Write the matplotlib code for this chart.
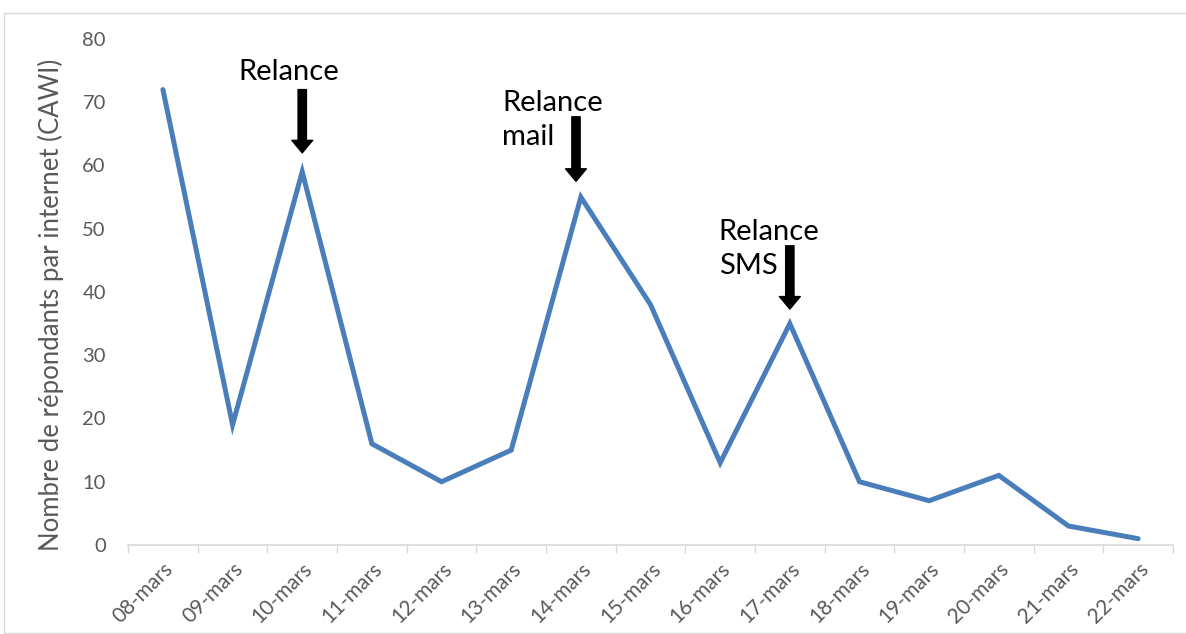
import matplotlib
matplotlib.use("Agg")
import matplotlib.pyplot as plt
from matplotlib.patches import Rectangle

# Data
dates = ['08-mars', '09-mars', '10-mars', '11-mars', '12-mars', '13-mars', '14-mars',
         '15-mars', '16-mars', '17-mars', '18-mars', '19-mars', '20-mars', '21-mars', '22-mars']
respondents = [72, 19, 59, 16, 10, 15, 55, 38, 13, 35, 10, 7, 11, 3, 1]

# annotations: (label, x index of arrow, arrow top value, arrow tip value, text x, text y)
notes = [
    ('Relance', 2, 72, 62, 1.08, 74.8),
    ('Relance\nmail', 5.93, 67.7, 57.5, 4.87, 67.2),
    ('Relance\nSMS', 9, 47.3, 37.3, 7.98, 46.8),
]

plt.rcParams['font.family'] = ['Lato', 'DejaVu Sans']
grey = '#595959'

fig = plt.figure(figsize=(11.86, 6.34), dpi=100)
ax = fig.add_axes([0.108, 0.1404, 0.881, 0.7981])

# light border round the chart area
fig.patches.append(Rectangle((4 / 1186, 0.002), 1.2, 1 - 13 / 634 - 0.002,
                             transform=fig.transFigure, fill=False,
                             edgecolor='#d9d9d9', linewidth=1))

x = range(len(dates))
ax.plot(x, respondents, color='#4a7ebb', linewidth=3.6,
        solid_joinstyle='miter', solid_capstyle='round')

ax.set_xlim(-0.5, len(dates) - 0.5)
ax.set_ylim(0, 80)
ax.set_yticks(range(0, 81, 10))
ax.set_xticks(list(x))
ax.set_xticklabels(dates, rotation=45, ha='right', va='top', rotation_mode='anchor')
ax.set_xticks([i - 0.5 for i in range(len(dates) + 1)], minor=True)

ax.tick_params(axis='x', which='major', length=0, pad=10, labelsize=15, labelcolor=grey)
ax.tick_params(axis='x', which='minor', length=6, color='#d9d9d9', width=1)
ax.tick_params(axis='y', length=0, pad=16, labelsize=14.5, labelcolor=grey)

for side in ['top', 'right', 'left']:
    ax.spines[side].set_visible(False)
ax.spines['bottom'].set_color('#d9d9d9')
ax.spines['bottom'].set_linewidth(1.2)

ax.set_ylabel('Nombre de répondants par internet (CAWI)', fontsize=18.5, color=grey)
ax.yaxis.set_label_coords(-0.061, 0.475)

for label, xi, top, tip, tx, ty in notes:
    ax.annotate('', xy=(xi, tip), xytext=(xi, top),
                arrowprops=dict(arrowstyle='simple,head_length=0.6,head_width=1.0,tail_width=0.4',
                                mutation_scale=15, color='black', shrinkA=0, shrinkB=0))
    ax.text(tx, ty, label, fontsize=21, color='black', ha='left', va='center',
            linespacing=1.4)

fig.savefig('out.png', dpi=100)
